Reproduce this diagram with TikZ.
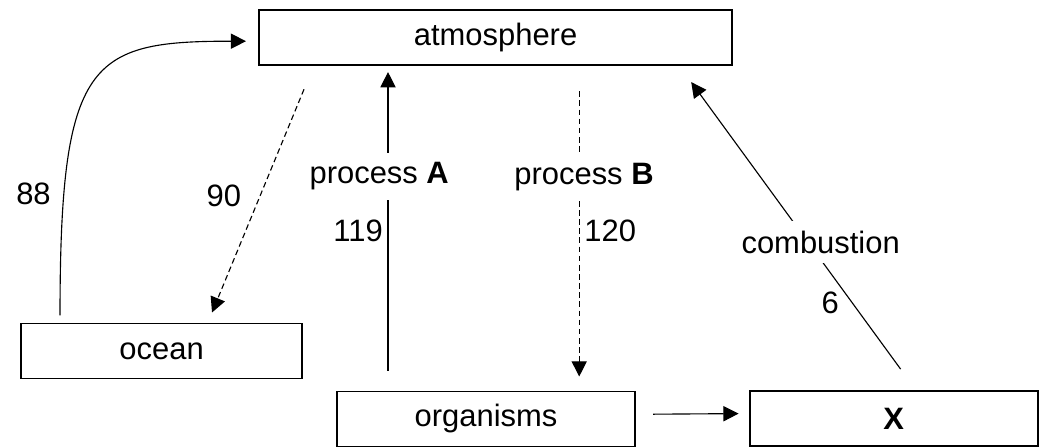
\documentclass[tikz,border=0pt]{standalone}
\usepackage{fontspec}
\setmainfont{Liberation Sans}
\usetikzlibrary{arrows.meta}

\begin{document}
\begin{tikzpicture}[
	font=\fontsize{22}{26}\selectfont,
	box/.style={shape=rectangle,draw=black,line width=1.4pt,minimum height=1.375cm,inner sep=0pt},
	flow/.style={-{Triangle[length=0.38cm,width=0.38cm]},line width=0.8pt},
	dflow/.style={flow,dash pattern=on 4pt off 2.5pt},
	gap/.style={fill=white,inner xsep=0.1cm,inner ysep=0.25cm}
	]
	\useasboundingbox (0,0) rectangle (26,11.2);
	
	\node[box,minimum width=11.83cm] (atm)   at (12.39,10.26) {atmosphere};
	\node[box,minimum width=7.03cm]  (ocean) at (4.04,2.425)  {ocean};
	\node[box,minimum width=7.45cm]  (orgs)  at (12.15,0.725) {organisms};
	\node[box,minimum width=7.2cm]   (x)     at (22.34,0.74)  {\textbf{X}};
	
	\path[flow]  ([xshift=1cm,yshift=0.18cm]ocean.north west) edge[out=90,in=180,out distance=6.4cm,in distance=3.9cm] node[left,pos=0.19,xshift=-0.2cm] {88} ([xshift=-0.3cm,yshift=-0.09cm]atm.west);
	\path[dflow] ([xshift=1.15cm,yshift=-0.58cm]atm.south west) edge node[left,pos=0.476,xshift=-0.35cm] {90} ([xshift=4.8cm,yshift=0.25cm]ocean.north west);
	\path[flow]  ([xshift=1.3cm,yshift=0.5cm]orgs.north west) edge node[gap,pos=0.65,xshift=-0.22cm] {process \textbf{A}} node[left,pos=0.467] {119} ([xshift=3.25cm,yshift=-0.15cm]atm.south west);
	\path[dflow] ([xshift=8.03cm,yshift=-0.63cm]atm.south west) edge node[gap,pos=0.3,xshift=0.12cm] {process \textbf{B}} node[right,pos=0.49] {120} ([xshift=6.08cm,yshift=0.35cm]orgs.north west);
	\path[flow]  ([xshift=3.8cm,yshift=0.52cm]x.north west) edge node[gap,pos=0.443,xshift=0.32cm] {combustion} node[left,pos=0.232,xshift=-0.2cm] {6} ([xshift=10.83cm,yshift=-0.4cm]atm.south west);
	\path[flow]  ([xshift=0.43cm,yshift=0.12cm]orgs.east) edge ([xshift=-0.25cm,yshift=0.12cm]x.west);
	
\end{tikzpicture}
\end{document}
